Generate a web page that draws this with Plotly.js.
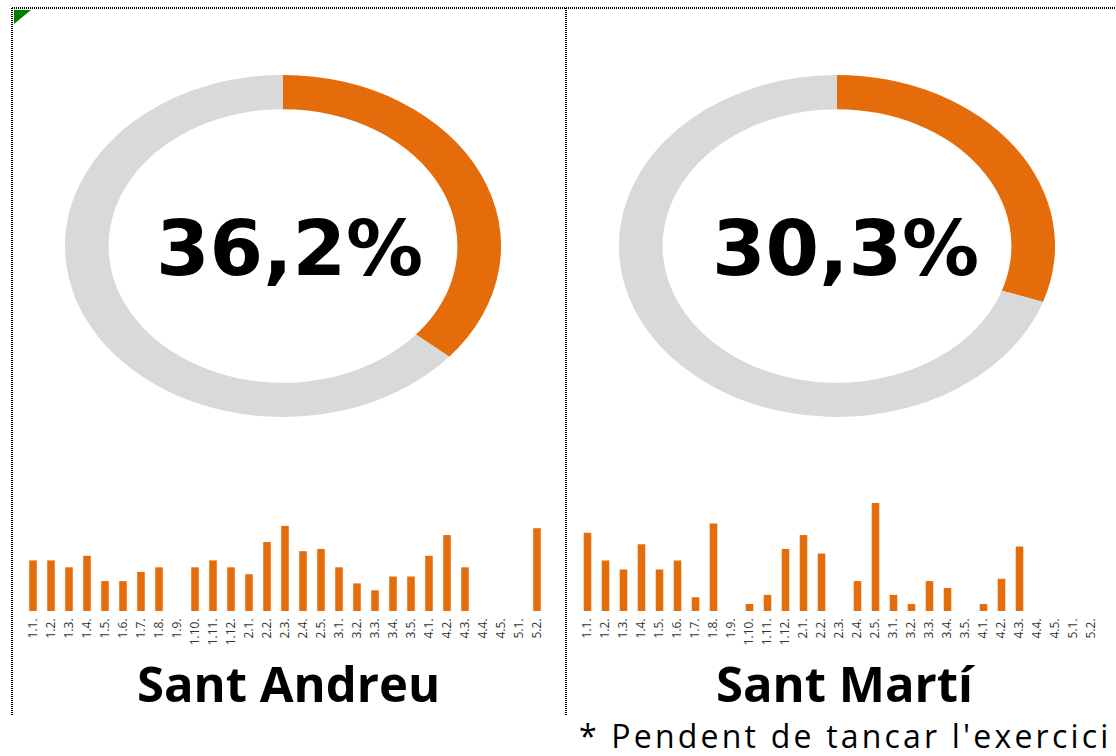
<!DOCTYPE html>
<html>
<head>
<meta charset="utf-8">
<script src="https://cdn.plot.ly/plotly-3.0.1.min.js"></script>
<style>
  html, body { margin: 0; padding: 0; background: #ffffff; }
  #wrap { position: relative; width: 1116px; height: 756px; overflow: hidden; }
  #main { position: absolute; left: 0; top: 0; width: 1116px; height: 756px; }
  .pie { position: absolute; width: 342px; height: 342px; transform: scaleX(1.275); transform-origin: 50% 50%; pointer-events: none; }
  #pieA { left: 112px; top: 75px; }
  #pieM { left: 666px; top: 75px; }
  text.annotation-text[data-unformatted^="*"] { letter-spacing: 3.2px; }
</style>
</head>
<body>
<div id="wrap">
  <div id="main"></div>
  <div id="pieA" class="pie"></div>
  <div id="pieM" class="pie"></div>
</div>
<script>
// ---- data ----
const districts = ['Sant Andreu', 'Sant Martí'];
const pctSantAndreu = 36.2;
const pctSantMarti = 30.3;
const categories = ['1.1.','1.2.','1.3.','1.4.','1.5.','1.6.','1.7.','1.8.','1.9.','1.10.','1.11.','1.12.',
                    '2.1.','2.2.','2.3.','2.4.','2.5.','3.1.','3.2.','3.3.','3.4.','3.5.',
                    '4.1.','4.2.','4.3.','4.4.','4.5.','5.1.','5.2.'];
const barsSantAndreu = [22,22,19,24,13,13,17,19,0,19,22,19,16,30,37,26,27,19,12,9,15,15,24,33,19,0,0,0,36];
const barsSantMarti  = [34,22,18,29,18,22,6,38,0,3,7,27,33,25,0,13,47,7,3,13,10,0,3,14,28,0,0,0,0];
const footnote = "* Pendent de tancar l'exercici";

// ---- styles ----
const ORANGE = '#E46C0A';
const GREY = '#D9D9D9';
const W = 1116, H = 756;
const px = v => v / W;
const py = v => 1 - v / H;
const fmtPct = v => v.toFixed(1).replace('.', ',') + '%';

const tickFont = {family: 'Open Sans, sans-serif', size: 12, color: '#333333'};

const traces = [
  {type: 'bar', x: categories, y: barsSantAndreu, xaxis: 'x', yaxis: 'y',
   marker: {color: ORANGE, line: {width: 0}}, hoverinfo: 'x+y'},
  {type: 'bar', x: categories, y: barsSantMarti, xaxis: 'x2', yaxis: 'y2',
   marker: {color: ORANGE, line: {width: 0}}, hoverinfo: 'x+y'}
];

const yDom = [py(611), py(500.6)];
const xBase = {type: 'category', tickangle: -90, tickfont: tickFont, showgrid: false, zeroline: false,
               showline: false, ticks: '', range: [-0.5, 28.5], fixedrange: true, ticklabelstandoff: 4};
const yBase = {range: [0, 48], visible: false, showgrid: false, zeroline: false, fixedrange: true, domain: yDom};

const dashLine = {color: '#000000', width: 2, dash: '1px,1px'};

const layout = {
  width: W, height: H,
  margin: {l: 0, r: 0, t: 0, b: 0},
  paper_bgcolor: '#ffffff', plot_bgcolor: 'rgba(0,0,0,0)',
  showlegend: false,
  bargap: 0.58,
  xaxis: Object.assign({}, xBase, {domain: [px(24), px(546)], anchor: 'y'}),
  yaxis: Object.assign({}, yBase, {anchor: 'x'}),
  xaxis2: Object.assign({}, xBase, {domain: [px(578.5), px(1100.5)], anchor: 'y2'}),
  yaxis2: Object.assign({}, yBase, {anchor: 'x2'}),
  shapes: [
    {type: 'line', xref: 'paper', yref: 'paper', x0: px(12), x1: 1, y0: py(8), y1: py(8), line: dashLine},
    {type: 'line', xref: 'paper', yref: 'paper', x0: px(12), x1: px(12), y0: py(8), y1: py(716), line: dashLine},
    {type: 'line', xref: 'paper', yref: 'paper', x0: px(566), x1: px(566), y0: py(8), y1: py(716), line: dashLine},
    {type: 'path', xref: 'paper', yref: 'paper',
     path: 'M ' + px(14) + ' ' + py(10) + ' L ' + px(31) + ' ' + py(10) + ' L ' + px(14) + ' ' + py(24) + ' Z',
     fillcolor: '#008000', line: {width: 0}}
  ],
  annotations: [
    {text: fmtPct(pctSantAndreu), xref: 'paper', yref: 'paper', x: px(289.5), y: py(249), xanchor: 'center', yanchor: 'middle',
     showarrow: false, font: {family: 'DejaVu Sans', size: 77, color: '#000000', weight: 'bold'}},
    {text: fmtPct(pctSantMarti), xref: 'paper', yref: 'paper', x: px(845.5), y: py(249), xanchor: 'center', yanchor: 'middle',
     showarrow: false, font: {family: 'DejaVu Sans', size: 77, color: '#000000', weight: 'bold'}},
    {text: districts[0], xref: 'paper', yref: 'paper', x: px(288), y: py(683), xanchor: 'center', yanchor: 'middle',
     showarrow: false, font: {family: 'Open Sans', size: 49, color: '#000000', weight: 'bold'}},
    {text: districts[1], xref: 'paper', yref: 'paper', x: px(845), y: py(683), xanchor: 'center', yanchor: 'middle',
     showarrow: false, font: {family: 'Open Sans', size: 49, color: '#000000', weight: 'bold'}},
    {text: footnote, xref: 'paper', yref: 'paper', x: px(577), y: py(735), xanchor: 'left', yanchor: 'middle',
     showarrow: false, font: {family: 'Open Sans', size: 32, color: '#000000'}}
  ]
};

Plotly.newPlot('main', traces, layout, {staticPlot: true, displayModeBar: false});

function donut(id, pct) {
  const data = [{
    type: 'pie', values: [pct, 100 - pct], labels: ['Percentatge', 'Resta'],
    sort: false, direction: 'clockwise', rotation: 0, hole: 0.8,
    textinfo: 'none', hoverinfo: 'none',
    marker: {colors: [ORANGE, GREY], line: {width: 0}},
    domain: {x: [0, 1], y: [0, 1]}
  }];
  const lay = {width: 342, height: 342, margin: {l: 0, r: 0, t: 0, b: 0},
               paper_bgcolor: 'rgba(0,0,0,0)', plot_bgcolor: 'rgba(0,0,0,0)', showlegend: false};
  Plotly.newPlot(id, data, lay, {staticPlot: true, displayModeBar: false});
}
donut('pieA', pctSantAndreu);
donut('pieM', pctSantMarti);
</script>
</body>
</html>
